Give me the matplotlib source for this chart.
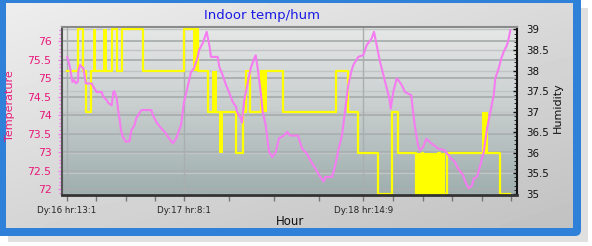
import numpy as np
import matplotlib
matplotlib.use("Agg")
import matplotlib.pyplot as plt
from matplotlib.patches import FancyBboxPatch, Rectangle
from matplotlib.colors import LinearSegmentedColormap
from matplotlib.transforms import blended_transform_factory

# sample index 0 = "Dy:16 hr:13:1"
TICK_POS = [0, 117.3, 296.6]
TICK_LABELS = ["Dy:16 hr:13:1", "Dy:17 hr:8:1", "Dy:18 hr:14:9"]
MINOR_POS = [29.3, 59.3, 88.3, 162, 207.3, 252.6, 326, 356, 385.3, 414.8, 444.3]

# indoor temperature (left axis)
temp_x = [0.6, 3.3, 5.0, 5.8, 7.3, 9.3, 11.3, 11.6, 13.3, 16.6, 19.3, 25.0, 26.6,
          30.0, 35.0, 36.6, 40.0, 41.6, 45.0, 46.6, 47.6, 50.0, 51.6, 52.8, 54.3,
          56.3, 59.3, 62.8, 64.8, 67.8, 69.6, 74.6, 84.6, 86.3, 89.6, 94.6, 98.0,
          101.3, 104.3, 106.3, 109.6, 114.3, 117.3, 121.3, 124.3, 127.3, 131.0,
          132.3, 136.0, 140.0, 142.6, 144.3, 151.0, 152.6, 155.9, 159.3, 162.3,
          166.0, 169.3, 170.3, 174.0, 175.3, 177.3, 180.6, 184.0, 187.6, 189.0,
          191.0, 194.0, 196.0, 199.0, 200.6, 202.3, 205.6, 209.0, 212.3, 215.6,
          219.0, 220.6, 223.3, 231.3, 235.3, 240.3, 243.6, 248.6, 253.6, 257.0,
          258.6, 265.3, 268.6, 272.0, 275.3, 278.6, 281.6, 284.6, 286.6, 291.6,
          296.6, 300.0, 305.0, 307.3, 310.0, 313.3, 316.7, 320.0, 322.6, 324.0,
          326.6, 330.0, 331.6, 335.0, 338.3, 344.6, 346.3, 348.0, 351.3, 353.0,
          356.3, 359.6, 364.6, 371.3, 378.0, 383.0, 388.0, 391.3, 396.3, 398.6,
          402.0, 405.3, 407.0, 410.3, 413.6, 417.0, 420.3, 423.6, 427.0, 428.6,
          432.0, 434.6, 437.0, 440.3, 442.0, 443.6]
temp_y = [75.57, 75.30, 75.00, 74.90, 74.95, 74.86, 74.92, 75.20, 75.36, 75.27,
          74.86, 74.86, 74.77, 74.63, 74.63, 74.50, 74.41, 74.33, 74.27, 74.63,
          74.65, 74.46, 74.10, 73.90, 73.60, 73.40, 73.28, 73.30, 73.60, 73.73,
          73.92, 74.14, 74.14, 74.00, 73.82, 73.64, 73.55, 73.42, 73.30, 73.24,
          73.38, 73.73, 74.35, 74.82, 75.17, 75.27, 75.58, 75.76, 75.95, 76.26,
          75.90, 75.58, 75.58, 75.31, 75.09, 74.82, 74.63, 74.36, 74.23, 74.09,
          73.92, 73.80, 74.36, 74.82, 75.27, 75.55, 75.62, 75.27, 74.63, 74.09,
          73.73, 73.38, 73.01, 72.87, 73.00, 73.38, 73.42, 73.50, 73.55, 73.45,
          73.45, 73.10, 72.96, 72.78, 72.56, 72.33, 72.20, 72.33, 72.33, 72.65,
          73.10, 73.46, 74.18, 74.82, 75.18, 75.36, 75.58, 75.63, 75.90, 76.08,
          76.26, 75.90, 75.45, 75.09, 74.73, 74.46, 74.18, 74.63, 75.00, 74.95,
          74.82, 74.63, 74.54, 74.10, 73.73, 73.19, 73.05, 73.14, 73.36, 73.24,
          73.10, 73.05, 72.87, 72.74, 72.56, 72.38, 72.20, 72.02, 72.10, 72.29,
          72.33, 72.65, 73.00, 73.64, 74.09, 74.54, 75.00, 75.27, 75.54, 75.72,
          75.90, 76.08, 76.30]

# indoor humidity (right axis), value from each change point on
hum_x = [0, 11.6, 16.0, 19.3, 24.0, 45.0, 50.6, 55.6, 76.0, 117.6, 131.0, 141.0,
         169.0, 176.6, 179.0, 183.3, 194.0, 216.6, 268.8, 280.8, 290.8, 311.6,
         325.0, 331.6, 349.6, 355.3, 356.3, 371.3, 372.8, 380.6, 433.6, 443.6]
hum_y = [38, 39, 38, 37, 38, 39, 38, 39, 38, 39, 38, 37,
         36, 37, 38, 37, 38, 37, 38, 37, 36, 35,
         37, 36, 35, 36, 35, 36, 35, 36, 35, 35]
# stretches where the reading flickers between two levels
flick_x0 = [26.6, 36.3, 126.0, 145.3, 151.8, 195.3, 349.6, 357.3, 373.6, 378.8, 415.6]
flick_x1 = [29.3, 40.3, 131.0, 150.0, 156.6, 200.6, 355.3, 371.3, 377.8, 380.6, 420.8]
flick_lo = [38, 38, 38, 37, 36, 37, 35, 35, 35, 35, 36]
flick_hi = [39, 39, 39, 38, 37, 38, 36, 36, 36, 36, 37]

TEMP_COL = "#f47cf0"
HUM_COL = "#ffff00"
PINK_TXT = "#e8197a"

fig = plt.figure(figsize=(5.92, 2.46), dpi=100)
fig.patch.set_facecolor("white")

# window frame behind everything
bg = fig.add_axes([0, 0, 1, 1], zorder=-10)
bg.axis("off")
bg.add_patch(Rectangle((8, 8), 580, 234, facecolor="#e0e0e0", edgecolor="none", zorder=1))
bg.add_patch(FancyBboxPatch((-8, -8), 589, 244, boxstyle="round,pad=0,rounding_size=6",
                            facecolor="#2f80d8", edgecolor="none", zorder=2))
gx, gy = np.meshgrid(np.linspace(0, 1, 60), np.linspace(0, 1, 40))
panel = 0.93 - 0.17 * (0.55 * gy + 0.45 * gx)
bg.imshow(panel, cmap="gray", vmin=0, vmax=1, extent=[6, 573, 228, 3], aspect="auto",
          interpolation="bicubic", zorder=3)
bg.set_xlim(0, 592); bg.set_ylim(246, 0)

L, R, T, B = 62, 517, 27, 195
ax2 = fig.add_axes([L / 592, 1 - B / 246, (R - L) / 592, (B - T) / 246])
ax = ax2.twinx()
ax.yaxis.tick_left(); ax.yaxis.set_label_position("left")
ax2.yaxis.tick_right()
ax.set_zorder(ax2.get_zorder() + 1)
ax.patch.set_visible(False)

# plot area gradient
grad = np.linspace(0, 1, 100).reshape(-1, 1)
cm = LinearSegmentedColormap.from_list("pa", ["#e6e7e7", "#c7cdcd", "#9eaeae"])
ax2.imshow(grad, cmap=cm, extent=[0, 1, 0, 1], transform=ax2.transAxes,
           aspect="auto", zorder=0)

xlim = (-4.7, 450.3)
ax.set_xlim(*xlim); ax2.set_xlim(*xlim)
ax.set_ylim(71.84, 76.39)
ax2.set_ylim(34.97, 39.06)

# grid lines, all kept under the data
temp_ticks = np.arange(72, 76.01, 0.5)
hum_ticks = np.arange(35, 39.01, 0.5)
tr = blended_transform_factory(ax2.transAxes, ax.transData)
ax2.hlines(temp_ticks, 0, 1, transform=tr, color="#a9aeae", lw=1.3, zorder=1)
ax2.hlines(hum_ticks, *xlim, color="#c0c4c4", lw=1.0, zorder=1)
for p in TICK_POS:
    ax2.axvline(p, color="#a9aeae", lw=1.0, zorder=1)

ax2.step(hum_x, hum_y, where="post", color=HUM_COL, lw=1.6, zorder=3)
for x0, x1, lo, hi in zip(flick_x0, flick_x1, flick_lo, flick_hi):
    ax2.fill_between([x0, x1], lo, hi, color=HUM_COL, lw=0, zorder=3)

ax.plot(temp_x, temp_y, color=TEMP_COL, lw=1.5, zorder=4)

ax.set_yticks(temp_ticks)
ax.set_yticklabels([f"{v:g}" for v in temp_ticks])
ax.set_yticks(np.arange(71.9, 76.4, 0.1), minor=True)
ax.tick_params(axis="y", colors=TEMP_COL, labelcolor=PINK_TXT, labelsize=7.8,
               length=3, width=1, pad=4.5)
ax.tick_params(axis="y", which="minor", colors=TEMP_COL, length=2, width=1)

ax2.set_yticks(hum_ticks)
ax2.set_yticklabels([f"{v:g}" for v in hum_ticks])
ax2.set_yticks(np.arange(35, 39.05, 0.1), minor=True)
ax2.tick_params(axis="y", colors="#111111", labelsize=7.4, direction="in",
                length=3, width=1, pad=6.5)
ax2.tick_params(axis="y", which="minor", colors="#111111", direction="in", length=2)

ax2.set_xticks(TICK_POS)
ax2.set_xticklabels(TICK_LABELS)
ax2.set_xticks(MINOR_POS, minor=True)
ax2.tick_params(axis="x", colors="#777777", labelcolor="#222222", labelsize=6.3,
                length=4, width=1, pad=4)
ax2.tick_params(axis="x", which="minor", colors="#777777", length=4, width=1)

for s in ax2.spines.values():
    s.set_visible(False)
ax.spines["left"].set_color("#555555"); ax.spines["left"].set_linewidth(1.5)
ax.spines["bottom"].set_color("#333333"); ax.spines["bottom"].set_linewidth(2)
ax.spines["top"].set_color("#8a8a8a"); ax.spines["top"].set_linewidth(1.5)
ax.spines["right"].set_color("#111111"); ax.spines["right"].set_linewidth(1.5)

fig.text(262 / 592, 1 - 15 / 246, "Indoor temp/hum", color="#1a1ae6",
         fontsize=9.5, ha="center", va="center")
fig.text(290 / 592, 1 - 221.5 / 246, "Hour", color="#111111", fontsize=8.5,
         ha="center", va="center")
fig.text(10 / 592, 1 - 106 / 246, "Temperature", color=PINK_TXT, fontsize=8,
         rotation=90, ha="center", va="center")
fig.text(558 / 592, 1 - 108 / 246, "Humidity", color="#111111", fontsize=8,
         rotation=90, ha="center", va="center")

fig.savefig("out.png", dpi=100)
